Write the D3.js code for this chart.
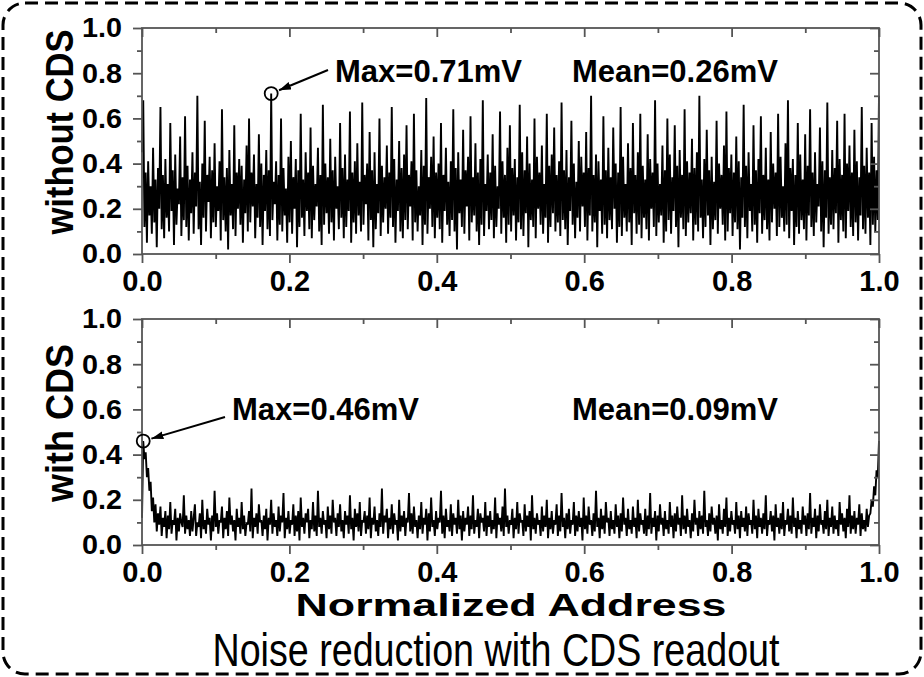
<!DOCTYPE html>
<html>
<head>
<meta charset="utf-8">
<script src="https://cdn.jsdelivr.net/npm/d3@7"></script>
<style>
  html, body { margin: 0; padding: 0; background: #fff; }
  svg { display: block; }
  text { font-family: "Liberation Sans", Arial, sans-serif; font-weight: bold; fill: #000; }
</style>
</head>
<body>
<svg id="chart" width="924" height="677"></svg>
<script>
// noise per pixel (mV) along the normalized address
const noiseWithoutCds = [
  0.45,0.68,0.12,0.36,0.05,0.41,0.17,0.30,0.09,0.47,0.14,0.33,0.03,0.38,0.20,0.65,0.11,0.35,0.07,0.42,
  0.16,0.31,0.10,0.58,0.19,0.37,0.04,0.44,0.13,0.29,0.22,0.52,0.08,0.34,0.15,0.61,0.12,0.39,0.06,0.33,
  0.18,0.45,0.09,0.36,0.21,0.70,0.11,0.32,0.04,0.40,0.16,0.59,0.10,0.35,0.23,0.43,0.07,0.37,0.14,0.49,
  0.12,0.30,0.19,0.41,0.06,0.64,0.15,0.34,0.10,0.38,0.02,0.46,0.17,0.31,0.11,0.57,0.08,0.36,0.20,0.42,
  0.13,0.39,0.05,0.33,0.18,0.48,0.10,0.60,0.14,0.36,0.21,0.44,0.07,0.31,0.16,0.53,0.12,0.40,0.04,0.35,
  0.19,0.46,0.11,0.37,0.08,0.71,0.15,0.32,0.22,0.41,0.06,0.35,0.13,0.60,0.10,0.38,0.17,0.29,0.05,0.43,
  0.14,0.50,0.09,0.34,0.20,0.42,0.03,0.37,0.12,0.62,0.16,0.33,0.08,0.45,0.19,0.36,0.11,0.56,0.07,0.39,
  0.15,0.31,0.21,0.47,0.10,0.35,0.04,0.66,0.13,0.40,0.18,0.34,0.09,0.51,0.14,0.37,0.06,0.43,0.20,0.30,
  0.11,0.58,0.16,0.38,0.07,0.44,0.12,0.33,0.19,0.63,0.05,0.36,0.14,0.41,0.09,0.49,0.17,0.32,0.10,0.67,
  0.13,0.35,0.22,0.40,0.06,0.54,0.15,0.37,0.03,0.45,0.11,0.31,0.18,0.60,0.08,0.39,0.14,0.34,0.20,0.48,
  0.09,0.36,0.16,0.65,0.12,0.42,0.05,0.33,0.19,0.50,0.10,0.38,0.07,0.44,0.15,0.57,0.11,0.35,0.21,0.41,
  0.06,0.62,0.14,0.37,0.10,0.30,0.17,0.46,0.04,0.39,0.13,0.69,0.09,0.34,0.20,0.43,0.12,0.52,0.07,0.36,
  0.16,0.40,0.11,0.58,0.05,0.35,0.19,0.47,0.13,0.32,0.08,0.41,0.15,0.64,0.10,0.38,0.02,0.45,0.18,0.33,
  0.12,0.55,0.09,0.37,0.21,0.43,0.06,0.61,0.14,0.34,0.17,0.49,0.10,0.36,0.04,0.42,0.13,0.68,0.08,0.31,
  0.19,0.44,0.11,0.36,0.15,0.53,0.07,0.39,0.12,0.30,0.20,0.63,0.09,0.41,0.16,0.35,0.05,0.47,0.13,0.57,
  0.10,0.38,0.17,0.42,0.06,0.34,0.14,0.66,0.11,0.45,0.08,0.37,0.18,0.52,0.03,0.40,0.15,0.33,0.12,0.60,
  0.07,0.43,0.20,0.36,0.13,0.48,0.09,0.31,0.16,0.62,0.05,0.39,0.12,0.44,0.18,0.56,0.10,0.35,0.14,0.41,
  0.08,0.67,0.15,0.37,0.11,0.46,0.04,0.34,0.19,0.59,0.13,0.40,0.07,0.32,0.16,0.50,0.10,0.43,0.21,0.36,
  0.12,0.54,0.06,0.38,0.17,0.70,0.10,0.35,0.14,0.44,0.03,0.41,0.19,0.33,0.09,0.61,0.13,0.37,0.07,0.47,
  0.15,0.34,0.11,0.56,0.20,0.40,0.05,0.36,0.12,0.65,0.08,0.43,0.16,0.31,0.10,0.49,0.14,0.38,0.04,0.58,
  0.18,0.35,0.09,0.45,0.13,0.62,0.07,0.39,0.16,0.33,0.11,0.53,0.06,0.42,0.20,0.36,0.12,0.68,0.08,0.40,
  0.14,0.31,0.17,0.48,0.05,0.37,0.10,0.60,0.15,0.44,0.09,0.34,0.19,0.57,0.12,0.39,0.03,0.46,0.16,0.35,
  0.11,0.64,0.08,0.41,0.14,0.36,0.18,0.51,0.06,0.38,0.13,0.45,0.10,0.70,0.16,0.33,0.07,0.42,0.12,0.55,
  0.17,0.37,0.04,0.43,0.11,0.32,0.15,0.59,0.09,0.40,0.20,0.35,0.13,0.48,0.06,0.63,0.10,0.38,0.18,0.44,
  0.08,0.36,0.14,0.52,0.11,0.41,0.02,0.34,0.16,0.66,0.12,0.39,0.07,0.45,0.19,0.31,0.10,0.57,0.13,0.37,
  0.05,0.42,0.18,0.61,0.09,0.35,0.15,0.47,0.11,0.33,0.06,0.54,0.14,0.40,0.20,0.36,0.08,0.62,0.12,0.43,
  0.16,0.30,0.10,0.49,0.13,0.68,0.07,0.38,0.19,0.42,0.04,0.35,0.12,0.58,0.09,0.44,0.15,0.33,0.11,0.53,
  0.06,0.39,0.17,0.64,0.12,0.36,0.08,0.45,0.14,0.31,0.21,0.56,0.10,0.41,0.03,0.37,0.16,0.67,0.09,0.34,
  0.13,0.46,0.11,0.38,0.18,0.59,0.05,0.42,0.15,0.35,0.10,0.62,0.07,0.40,0.19,0.48,0.12,0.36,0.08,0.55,
  0.14,0.41,0.06,0.34,0.17,0.65,0.11,0.39,0.09,0.47,0.16,0.36,0.04,0.58,0.13,0.43,0.10,0.37,0.15,0.70
];

const noiseWithCds = [
  0.12,0.46,0.38,0.41,0.30,0.34,0.24,0.28,0.15,0.21,0.10,0.18,0.06,0.14,0.09,0.17,0.04,0.12,0.08,0.15,
  0.03,0.13,0.07,0.19,0.05,0.11,0.09,0.16,0.02,0.12,0.06,0.14,0.10,0.08,0.22,0.05,0.13,0.07,0.11,0.04,
  0.15,0.06,0.12,0.18,0.04,0.10,0.08,0.14,0.03,0.20,0.07,0.11,0.05,0.16,0.09,0.12,0.02,0.13,0.06,0.24,
  0.08,0.14,0.05,0.11,0.10,0.17,0.03,0.12,0.07,0.15,0.04,0.21,0.09,0.13,0.06,0.11,0.02,0.16,0.08,0.12,
  0.05,0.19,0.07,0.13,0.04,0.10,0.09,0.15,0.06,0.25,0.03,0.12,0.08,0.14,0.05,0.18,0.10,0.11,0.04,0.13,
  0.07,0.16,0.02,0.12,0.09,0.20,0.05,0.14,0.08,0.11,0.04,0.17,0.06,0.13,0.10,0.23,0.03,0.12,0.07,0.15,
  0.05,0.11,0.09,0.18,0.04,0.13,0.06,0.15,0.02,0.21,0.08,0.12,0.05,0.14,0.10,0.16,0.03,0.11,0.07,0.19,
  0.06,0.13,0.04,0.24,0.08,0.12,0.05,0.15,0.09,0.11,0.03,0.17,0.07,0.13,0.05,0.20,0.10,0.12,0.04,0.14,
  0.08,0.18,0.06,0.11,0.03,0.15,0.09,0.13,0.05,0.22,0.07,0.12,0.02,0.16,0.08,0.14,0.06,0.19,0.04,0.11,
  0.10,0.15,0.05,0.13,0.07,0.21,0.03,0.12,0.09,0.17,0.06,0.11,0.04,0.14,0.08,0.25,0.05,0.13,0.10,0.16,
  0.03,0.12,0.07,0.18,0.05,0.14,0.09,0.11,0.02,0.20,0.06,0.13,0.08,0.15,0.04,0.12,0.10,0.23,0.06,0.14,
  0.05,0.17,0.08,0.11,0.03,0.13,0.07,0.19,0.05,0.12,0.09,0.16,0.02,0.14,0.06,0.21,0.08,0.11,0.04,0.15,
  0.07,0.12,0.10,0.24,0.05,0.13,0.03,0.16,0.08,0.11,0.06,0.18,0.04,0.14,0.09,0.12,0.05,0.20,0.07,0.13,
  0.02,0.15,0.06,0.12,0.09,0.17,0.04,0.13,0.07,0.22,0.05,0.11,0.08,0.16,0.03,0.14,0.10,0.12,0.06,0.19,
  0.04,0.13,0.08,0.15,0.05,0.11,0.07,0.21,0.03,0.14,0.09,0.12,0.06,0.17,0.04,0.25,0.08,0.13,0.05,0.11,
  0.09,0.16,0.03,0.12,0.07,0.19,0.05,0.14,0.10,0.11,0.04,0.18,0.06,0.13,0.08,0.15,0.02,0.22,0.07,0.12,
  0.05,0.14,0.09,0.11,0.04,0.17,0.06,0.13,0.08,0.20,0.03,0.12,0.07,0.15,0.05,0.11,0.09,0.18,0.04,0.13,
  0.06,0.23,0.08,0.12,0.03,0.14,0.07,0.16,0.05,0.11,0.09,0.19,0.04,0.13,0.06,0.15,0.08,0.12,0.02,0.21,
  0.07,0.13,0.05,0.17,0.09,0.11,0.04,0.14,0.06,0.24,0.08,0.12,0.03,0.16,0.07,0.13,0.05,0.19,0.10,0.12,
  0.04,0.15,0.07,0.11,0.05,0.18,0.08,0.13,0.03,0.14,0.06,0.21,0.09,0.12,0.04,0.16,0.07,0.11,0.05,0.17,
  0.08,0.12,0.03,0.20,0.06,0.14,0.09,0.11,0.05,0.16,0.04,0.13,0.07,0.23,0.05,0.12,0.08,0.15,0.02,0.13,
  0.06,0.18,0.09,0.12,0.04,0.15,0.07,0.11,0.05,0.19,0.08,0.13,0.03,0.14,0.06,0.17,0.09,0.12,0.04,0.22,
  0.07,0.13,0.05,0.16,0.08,0.11,0.03,0.14,0.06,0.20,0.09,0.12,0.04,0.15,0.07,0.13,0.05,0.24,0.08,0.11,
  0.04,0.14,0.06,0.17,0.09,0.12,0.05,0.13,0.02,0.18,0.07,0.11,0.05,0.16,0.08,0.21,0.04,0.12,0.06,0.15,
  0.09,0.11,0.05,0.19,0.07,0.13,0.03,0.15,0.08,0.12,0.06,0.17,0.04,0.14,0.09,0.11,0.05,0.20,0.07,0.13,
  0.03,0.16,0.08,0.12,0.05,0.14,0.07,0.22,0.04,0.11,0.09,0.15,0.06,0.13,0.02,0.18,0.08,0.12,0.05,0.14,
  0.07,0.19,0.04,0.11,0.09,0.16,0.06,0.13,0.05,0.21,0.08,0.12,0.03,0.15,0.07,0.11,0.05,0.17,0.09,0.13,
  0.04,0.14,0.07,0.23,0.05,0.12,0.08,0.16,0.03,0.13,0.06,0.18,0.09,0.11,0.05,0.15,0.07,0.20,0.04,0.12,
  0.08,0.17,0.05,0.13,0.07,0.11,0.04,0.19,0.09,0.14,0.06,0.12,0.03,0.16,0.08,0.22,0.05,0.13,0.07,0.15,
  0.05,0.12,0.09,0.18,0.04,0.14,0.07,0.11,0.06,0.16,0.08,0.13,0.14,0.20,0.17,0.26,0.22,0.33,0.30,0.46
];

const panelLabels = ['without CDS', 'with CDS'];
const maxLabels = ['Max=0.71mV', 'Max=0.46mV'];
const meanLabels = ['Mean=0.26mV', 'Mean=0.09mV'];
const majorTicks = [0, 0.2, 0.4, 0.6, 0.8, 1.0];
const minorTicks = [0.1, 0.3, 0.5, 0.7, 0.9];
const xTitle = 'Normalized Address';
const caption = 'Noise reduction with CDS readout';

const svg = d3.select('#chart');
const W = 924, H = 677;
const left = 142, right = 879;
const axisColor = '#555';

// dashed rounded frame round the whole figure
svg.append('rect')
  .attr('x', 3).attr('y', 3)
  .attr('width', W - 6).attr('height', H - 6)
  .attr('rx', 22).attr('ry', 22)
  .attr('fill', 'none')
  .attr('stroke', '#000')
  .attr('stroke-width', 3)
  .attr('stroke-dasharray', '13,7');

svg.append('defs').append('marker')
  .attr('id', 'arrow')
  .attr('viewBox', '0 0 12 8')
  .attr('refX', 12).attr('refY', 4)
  .attr('markerWidth', 12).attr('markerHeight', 8)
  .attr('markerUnits', 'userSpaceOnUse')
  .attr('orient', 'auto')
  .append('path')
  .attr('d', 'M0,0L12,4L0,8Z')
  .attr('fill', '#000');

const panels = [
  { values: noiseWithoutCds, top: 28, bottom: 254, textY: 82, maxX: 335, meanX: 572, arrowFrom: [328, 70] },
  { values: noiseWithCds, top: 319, bottom: 545, textY: 420, maxX: 232, meanX: 572, arrowFrom: [225, 417] }
];

const x = d3.scaleLinear().domain([0, 1]).range([left, right]);

panels.forEach((p, k) => {
  const y = d3.scaleLinear().domain([0, 1]).range([p.bottom, p.top]);
  const n = p.values.length;
  const address = i => i / (n - 1);
  const g = svg.append('g');

  const line = d3.line()
    .x((d, i) => x(address(i)))
    .y(d => y(d));

  g.append('path')
    .datum(p.values)
    .attr('d', line)
    .attr('fill', 'none')
    .attr('stroke', '#000')
    .attr('stroke-width', 1.9)
    .attr('stroke-linejoin', 'bevel');

  // axes: outward ticks on left/bottom, inward on top/right
  const yAxis = g.append('g').attr('transform', `translate(${left},0)`)
    .call(d3.axisLeft(y).tickValues(majorTicks).tickSize(9).tickPadding(11).tickFormat(d3.format('.1f')));
  g.append('g').attr('transform', `translate(${left},0)`)
    .call(d3.axisLeft(y).tickValues(minorTicks).tickSize(5).tickFormat(''));
  g.append('g').attr('transform', `translate(${right},0)`)
    .call(d3.axisRight(y).tickValues(majorTicks).tickSize(-9).tickFormat(''));
  g.append('g').attr('transform', `translate(${right},0)`)
    .call(d3.axisRight(y).tickValues(minorTicks).tickSize(-5).tickFormat(''));

  const xAxis = g.append('g').attr('transform', `translate(0,${p.bottom})`)
    .call(d3.axisBottom(x).tickValues(majorTicks).tickSize(9).tickPadding(7).tickFormat(d3.format('.1f')));
  g.append('g').attr('transform', `translate(0,${p.bottom})`)
    .call(d3.axisBottom(x).tickValues(minorTicks).tickSize(5).tickFormat(''));
  g.append('g').attr('transform', `translate(0,${p.top})`)
    .call(d3.axisTop(x).tickValues(majorTicks).tickSize(-9).tickFormat(''));
  g.append('g').attr('transform', `translate(0,${p.top})`)
    .call(d3.axisTop(x).tickValues(minorTicks).tickSize(-5).tickFormat(''));

  g.selectAll('.domain').remove();
  g.selectAll('.tick line').attr('stroke', axisColor).attr('stroke-width', 1.8);

  yAxis.selectAll('text')
    .style('font-size', '28px')
    .attr('textLength', 40)
    .attr('lengthAdjust', 'spacingAndGlyphs');
  xAxis.selectAll('text').style('font-size', '29px');

  g.append('rect')
    .attr('x', left).attr('y', p.top)
    .attr('width', right - left).attr('height', p.bottom - p.top)
    .attr('fill', 'none')
    .attr('stroke', axisColor)
    .attr('stroke-width', 1.8);

  // panel label
  g.append('text')
    .attr('transform', `translate(73,${(p.top + p.bottom) / 2 - 9}) rotate(-90)`)
    .attr('text-anchor', 'middle')
    .style('font-size', '38px')
    .attr('textLength', k === 0 ? 205 : 158)
    .attr('lengthAdjust', 'spacingAndGlyphs')
    .text(panelLabels[k]);

  // max marker
  const mi = d3.maxIndex(p.values);
  const cx = x(address(mi)), cy = y(p.values[mi]);
  g.append('circle')
    .attr('cx', cx).attr('cy', cy).attr('r', 6.5)
    .attr('fill', 'none')
    .attr('stroke', '#000').attr('stroke-width', 1.8);

  const [ax, ay] = p.arrowFrom;
  const len = Math.hypot(ax - cx, ay - cy);
  g.append('line')
    .attr('x1', ax).attr('y1', ay)
    .attr('x2', cx + (ax - cx) / len * 8.5)
    .attr('y2', cy + (ay - cy) / len * 8.5)
    .attr('stroke', '#000')
    .attr('stroke-width', 2)
    .attr('marker-end', 'url(#arrow)');

  g.append('text').attr('x', p.maxX).attr('y', p.textY)
    .style('font-size', '31px').text(maxLabels[k]);
  g.append('text').attr('x', p.meanX).attr('y', p.textY)
    .style('font-size', '31px').text(meanLabels[k]);
});

svg.append('text')
  .attr('x', 511).attr('y', 616)
  .attr('text-anchor', 'middle')
  .style('font-size', '31px')
  .attr('textLength', 431)
  .attr('lengthAdjust', 'spacingAndGlyphs')
  .text(xTitle);

svg.append('text')
  .attr('x', 496).attr('y', 666)
  .attr('text-anchor', 'middle')
  .style('font-family', '"Liberation Sans Narrow", "Arial Narrow", "Liberation Sans", sans-serif')
  .style('font-weight', 'normal')
  .style('font-size', '46px')
  .attr('textLength', 567)
  .attr('lengthAdjust', 'spacingAndGlyphs')
  .text(caption);
</script>
</body>
</html>
